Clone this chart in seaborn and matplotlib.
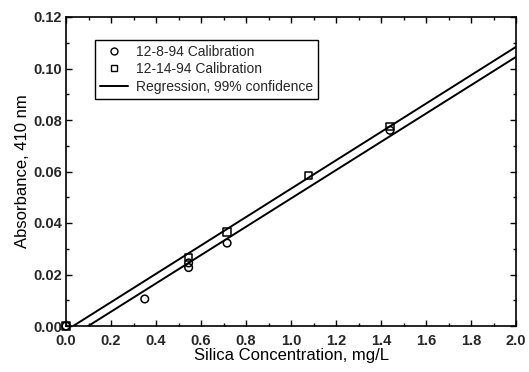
import matplotlib
matplotlib.use("Agg")
import matplotlib.pyplot as plt
from matplotlib.lines import Line2D
from matplotlib.ticker import MultipleLocator
import seaborn as sns
import pandas as pd

# Data
cal1_label = "12-8-94 Calibration"
cal1_x = [0.0, 0.35, 0.545, 0.545, 0.716, 1.44]
cal1_y = [0.0, 0.0105, 0.0245, 0.0227, 0.0322, 0.0760]

cal2_label = "12-14-94 Calibration"
cal2_x = [0.0, 0.545, 0.716, 1.077, 1.44]
cal2_y = [0.0, 0.0265, 0.0365, 0.0584, 0.0776]

reg_label = "Regression, 99% confidence"
upper_x = [0.032, 2.0]
upper_y = [0.0, 0.1084]
lower_x = [0.099, 2.0]
lower_y = [0.0, 0.1045]

xticks = [0.0, 0.2, 0.4, 0.6, 0.8, 1.0, 1.2, 1.4, 1.6, 1.8, 2.0]
yticks = [0.00, 0.02, 0.04, 0.06, 0.08, 0.10, 0.12]
xlabel = "Silica Concentration, mg/L"
ylabel = "Absorbance, 410 nm"

sns.set_theme(style="ticks")
plt.rcParams["font.family"] = ["Liberation Sans", "DejaVu Sans"]

fig = plt.figure(figsize=(5.29, 3.72), dpi=100)
ax = fig.add_axes([66 / 529, 1 - 326 / 372, 450 / 529, 309 / 372])

lines_df = pd.concat([
    pd.DataFrame({"x": upper_x, "y": upper_y, "band": "upper"}),
    pd.DataFrame({"x": lower_x, "y": lower_y, "band": "lower"}),
])
sns.lineplot(data=lines_df, x="x", y="y", units="band", estimator=None,
             color="black", lw=1.4, ax=ax, legend=False, sort=False)

sns.scatterplot(x=cal1_x, y=cal1_y, marker="o", s=30, facecolor="none",
                edgecolor="black", linewidth=1.1, ax=ax, clip_on=False, zorder=5)
sns.scatterplot(x=cal2_x, y=cal2_y, marker="s", s=28, facecolor="none",
                edgecolor="black", linewidth=1.1, ax=ax, clip_on=False, zorder=5)

ax.set_xlim(0, 2.0)
ax.set_ylim(0, 0.12)
ax.set_xticks(xticks)
ax.set_yticks(yticks)
ax.set_xticklabels([f"{v:.1f}" for v in xticks])
ax.set_yticklabels([f"{v:.2f}" for v in yticks])
ax.xaxis.set_minor_locator(MultipleLocator(0.1))
ax.yaxis.set_minor_locator(MultipleLocator(0.01))
ax.tick_params(which="both", direction="in", top=True, right=True,
               color="black", width=1.0)
ax.tick_params(which="major", length=4, labelsize=10.5)
ax.tick_params(axis="x", which="major", pad=6)
ax.tick_params(axis="y", which="major", pad=3)
ax.tick_params(which="minor", length=2)
for lab in ax.get_xticklabels() + ax.get_yticklabels():
    lab.set_fontweight("bold")
for sp in ax.spines.values():
    sp.set_color("black")
    sp.set_linewidth(1.2)

ax.set_xlabel(xlabel, fontsize=12, labelpad=0, color="black")
ax.set_ylabel(ylabel, fontsize=12, labelpad=2, color="black")

handles = [
    Line2D([], [], marker="o", ls="none", mfc="none", mec="black", ms=5, mew=1.0),
    Line2D([], [], marker="s", ls="none", mfc="none", mec="black", ms=4.5, mew=1.0),
    Line2D([], [], color="black", lw=1.4),
]
leg = ax.legend(handles, [cal1_label, cal2_label, reg_label],
                loc="upper left", bbox_to_anchor=(29 / 450, 1 - 23 / 309),
                prop={"size": 10, "weight": "normal"},
                frameon=True, fancybox=False, framealpha=1,
                edgecolor="black", handlelength=2.0, handletextpad=0.6,
                borderpad=0.35, labelspacing=0.25, borderaxespad=0)
leg.get_frame().set_linewidth(1.0)

fig.savefig("out.png", dpi=100)
